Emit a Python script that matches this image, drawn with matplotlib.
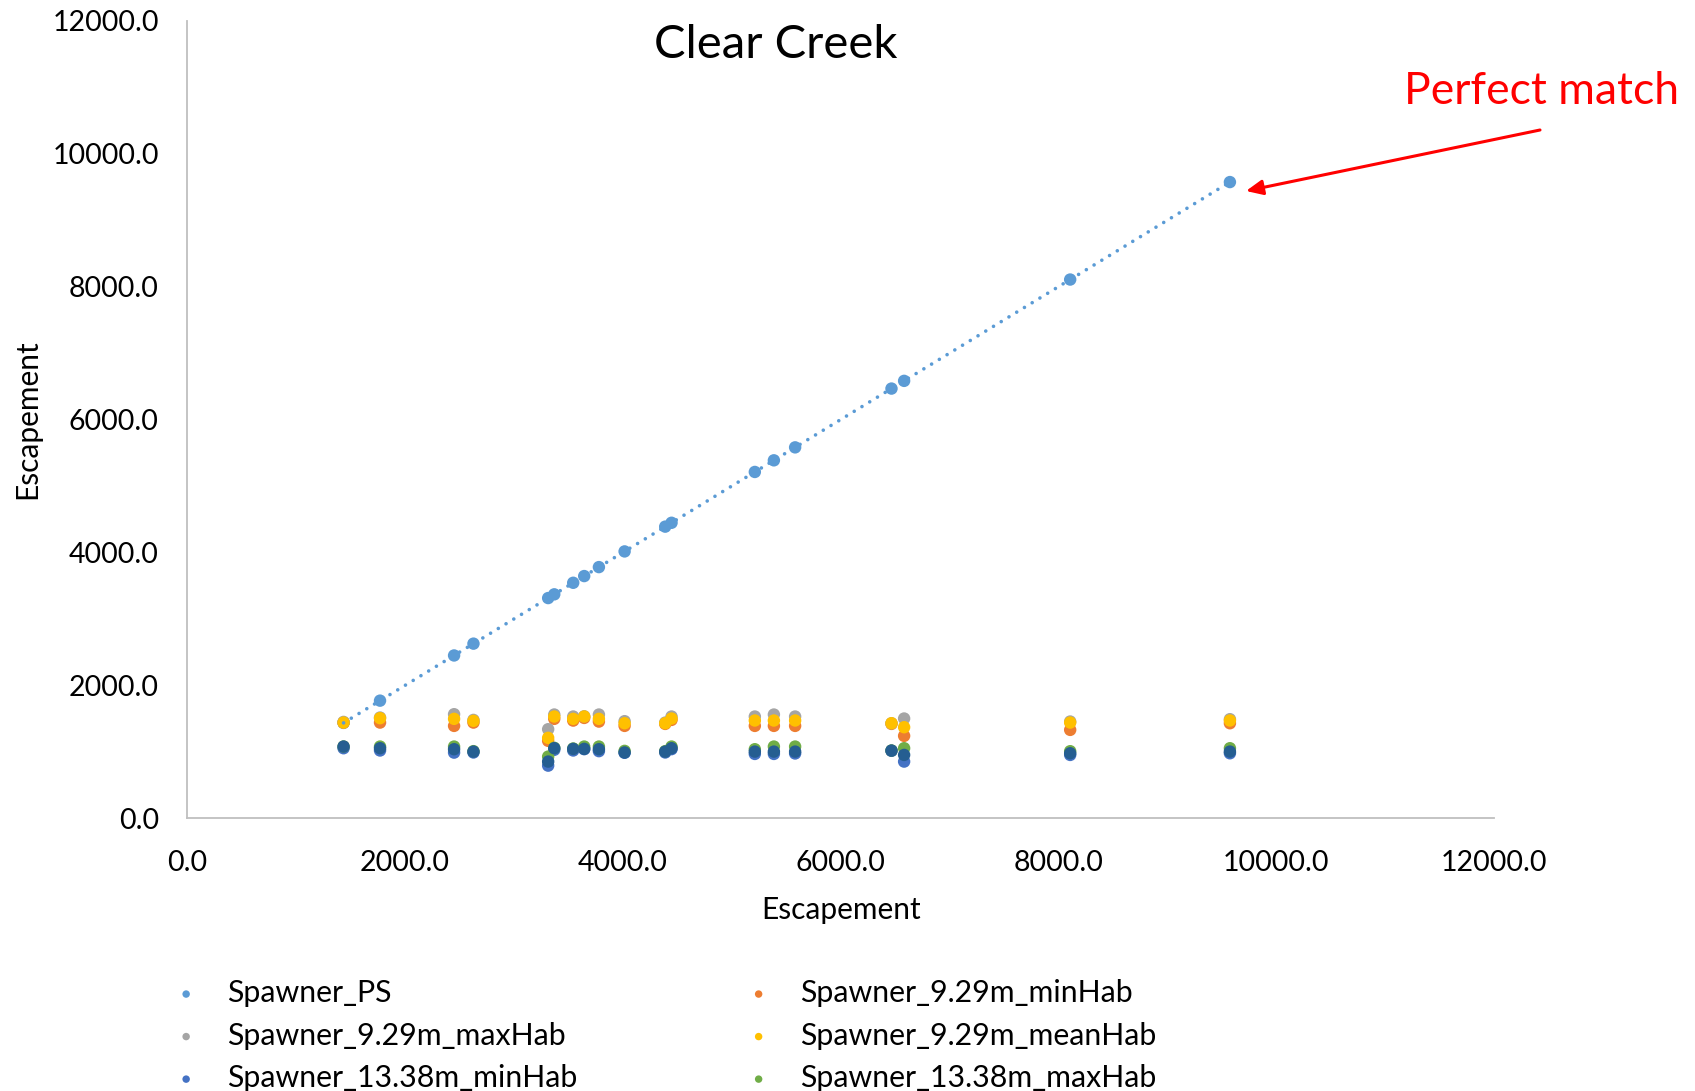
import matplotlib
matplotlib.use("Agg")
import matplotlib.pyplot as plt
import numpy as np

plt.rcParams['font.family'] = ['Lato', 'DejaVu Sans']

escapement = [1435, 1770, 2450, 2628, 3314, 3370, 3544, 3645, 3780, 4016,
              4389, 4447, 5212, 5387, 5582, 6467, 6583, 8108, 9575]
spawner_ps = [1435, 1770, 2450, 2628, 3314, 3370, 3544, 3645, 3780, 4016,
              4389, 4447, 5212, 5387, 5582, 6467, 6583, 8108, 9575]
min_929 = [1440, 1440, 1390, 1440, 1165, 1496, 1470, 1510, 1455, 1390,
           1420, 1480, 1390, 1390, 1390, 1420, 1240, 1330, 1430]
max_929 = [1450, 1516, 1566, 1480, 1340, 1561, 1531, 1535, 1561, 1461,
           1440, 1531, 1531, 1561, 1531, 1430, 1501, 1456, 1491]
mean_929 = [1440, 1506, 1496, 1466, 1210, 1531, 1496, 1531, 1496, 1430,
            1430, 1501, 1471, 1471, 1471, 1430, 1370, 1440, 1471]
min_1338 = [1054, 1020, 988, 990, 792, 1030, 1020, 1040, 1010, 985,
            990, 1040, 968, 968, 975, 1015, 853, 953, 978]
max_1338 = [1080, 1079, 1079, 1010, 928, 1060, 1050, 1079, 1079, 1014,
            1010, 1079, 1039, 1079, 1079, 1020, 1054, 1009, 1054]
mean_1338 = [1079, 1054, 1039, 1003, 853, 1054, 1044, 1044, 1039, 990,
             1003, 1054, 1003, 1003, 1003, 1018, 953, 978, 1003]

series = [
    ("Spawner_PS", spawner_ps, "#5B9BD5"),
    ("Spawner_9.29m_minHab", min_929, "#ED7D31"),
    ("Spawner_9.29m_maxHab", max_929, "#A5A5A5"),
    ("Spawner_9.29m_meanHab", mean_929, "#FFC000"),
    ("Spawner_13.38m_minHab", min_1338, "#4472C4"),
    ("Spawner_13.38m_maxHab", max_1338, "#70AD47"),
    ("Spawner_13.38m_meanHab", mean_1338, "#255E91"),
]

fig = plt.figure(figsize=(16.95, 10.91), dpi=100)
ax = fig.add_axes([0.1105, 0.2500, 0.8814 - 0.1105, 0.9808 - 0.2500])

handles = []
for name, vals, col in series:
    h = ax.scatter(escapement, vals, s=80, color=col, edgecolors='none',
                   label=name, zorder=3)
    handles.append(h)

# linear trendline for Spawner_PS
coef = np.polyfit(escapement, spawner_ps, 1)
xs = np.array([min(escapement), max(escapement)])
ax.plot(xs, np.polyval(coef, xs), color="#5B9BD5", lw=2.6,
        linestyle=(0, (0.01, 2.5)), dash_capstyle='round', zorder=4)

ax.set_xlim(0, 12000)
ax.set_ylim(0, 12000)
ticks = np.arange(0, 12001, 2000)
ax.set_xticks(ticks)
ax.set_yticks(ticks)
ax.set_xticklabels([f"{t:.1f}" for t in ticks])
ax.set_yticklabels([f"{t:.1f}" for t in ticks])
ax.tick_params(length=0, labelsize=20.5, colors='black')
ax.tick_params(axis='x', pad=23)
ax.tick_params(axis='y', pad=20.5)
for sp in ['top', 'right']:
    ax.spines[sp].set_visible(False)
for sp in ['left', 'bottom']:
    ax.spines[sp].set_color('#BFBFBF')
    ax.spines[sp].set_linewidth(1.3)

ax.set_xlabel("Escapement", fontsize=21.5)
ax.set_ylabel("Escapement", fontsize=21.5)
ax.xaxis.set_label_coords(0.5, -0.098)
ax.yaxis.set_label_coords(-0.112, 0.5)

fig.text(776 / 1695, 1 - 45 / 1091, "Clear Creek", fontsize=34,
         ha='center', va='center')
fig.text(1542 / 1695, 1 - 92 / 1091, "Perfect match", fontsize=32,
         ha='center', va='center', color='red')
ax.annotate("", xy=(1246 / 1695, 1 - 191 / 1091), xycoords='figure fraction',
            xytext=(1540 / 1695, 1 - 130 / 1091), textcoords='figure fraction',
            arrowprops=dict(arrowstyle='-|>,head_length=1.0,head_width=0.45',
                            color='red', lw=2.2, shrinkA=0, shrinkB=0),
            annotation_clip=False)

order = [0, 2, 4, 6, 1, 3, 5]
leg = fig.legend([handles[i] for i in order], [series[i][0] for i in order],
                 ncol=2, loc='upper left', bbox_to_anchor=(171 / 1695, 1 - 979 / 1091),
                 frameon=False, fontsize=21.8, markerscale=0.6,
                 borderpad=0, borderaxespad=0,
                 handletextpad=0.86, columnspacing=4.7, labelspacing=0.48,
                 handlelength=1.0)

fig.savefig("out.png", dpi=100)
